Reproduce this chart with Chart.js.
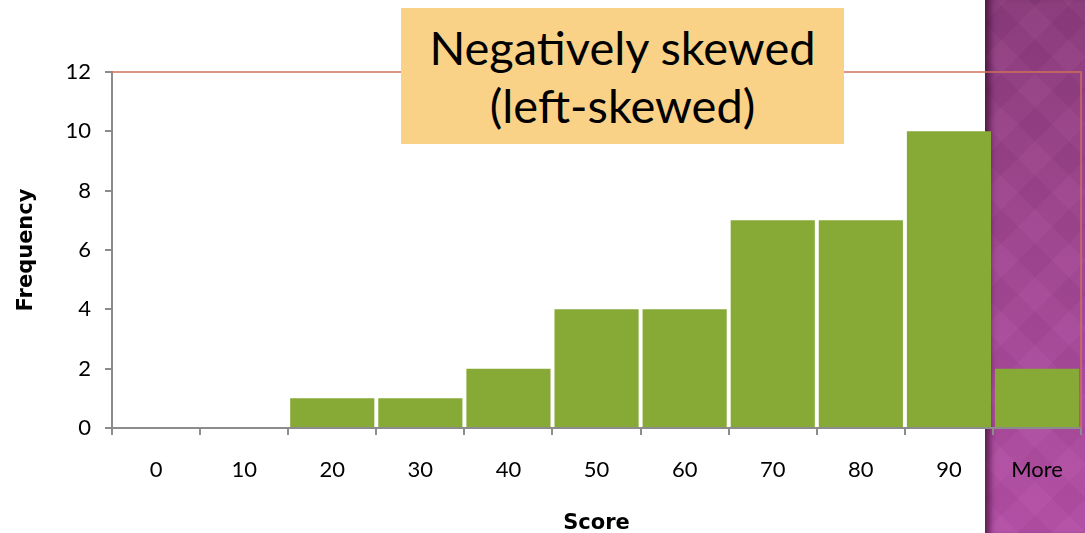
<!DOCTYPE html>
<html>
<head>
<meta charset="utf-8">
<script src="https://cdn.jsdelivr.net/npm/chart.js@4"></script>
<style>
  html, body { margin: 0; padding: 0; background: #fff; }
  #wrap { position: relative; width: 1085px; height: 533px; overflow: hidden; }
  #strip {
    position: absolute; left: 985px; top: 0; width: 100px; height: 533px;
    background:
      repeating-linear-gradient(45deg, rgba(255,255,255,0.018) 0 24px, rgba(0,0,0,0.018) 24px 48px),
      repeating-linear-gradient(-45deg, rgba(255,255,255,0.018) 0 24px, rgba(0,0,0,0.018) 24px 48px),
      linear-gradient(180deg, #8c3a7c 0%, #a04591 45%, #b44ea6 100%);
    box-shadow: inset 9px 0 6px -4px rgba(40, 0, 30, 0.6);
  }
  #chart { position: absolute; left: 0; top: 0; }
  #title {
    position: absolute; left: 401px; top: 8px; width: 443px; height: 136px;
    background: #f9d288; color: #000;
    font-family: Lato, sans-serif; font-size: 47px; line-height: 58px;
    text-align: center; box-sizing: border-box; padding-top: 10px;
  }
</style>
</head>
<body>
<div id="wrap">
  <div id="strip"></div>
  <canvas id="chart" width="1085" height="533"></canvas>
  <div id="title">Negatively skewed<br>(left-skewed)</div>
</div>
<script>
const categories = ['0', '10', '20', '30', '40', '50', '60', '70', '80', '90', 'More']
const frequency = [0, 0, 1, 1, 2, 4, 4, 7, 7, 10, 2]
const yTicks = [0, 2, 4, 6, 8, 10, 12]

const axisGrey = '#8c8c8c'
const tickFont = { family: 'Lato, sans-serif', size: 22 }
const titleFont = { family: '"DejaVu Sans", sans-serif', size: 21, weight: 'bold' }

// red frame on top and right of the plot area
const frame = {
  id: 'frame',
  afterDraw (chart) {
    const { ctx, chartArea: a } = chart
    ctx.save()
    ctx.strokeStyle = '#d0705a'
    ctx.lineWidth = 1.5
    ctx.beginPath()
    ctx.moveTo(a.left, a.top)
    ctx.lineTo(a.right, a.top)
    ctx.lineTo(a.right, a.bottom)
    ctx.stroke()
    ctx.restore()
  }
}

new Chart(document.getElementById('chart'), {
  type: 'bar',
  data: {
    labels: categories,
    datasets: [{
      label: 'Frequency',
      data: frequency,
      backgroundColor: '#86aa35',
      borderWidth: 0,
      barPercentage: 0.955,
      categoryPercentage: 1
    }]
  },
  options: {
    responsive: false,
    animation: false,
    layout: { padding: { left: 0, right: 2, top: 72, bottom: 0 } },
    plugins: { legend: { display: false }, tooltip: { enabled: false } },
    scales: {
      x: {
        afterFit: s => { s.height = 105 },
        grid: { offset: true, drawOnChartArea: false, drawTicks: true, tickLength: 7, color: axisGrey, lineWidth: 2 },
        border: { display: true, color: axisGrey, width: 2 },
        ticks: { color: '#000', font: tickFont, padding: 22 },
        title: { display: true, text: 'Score', color: '#000', font: titleFont, padding: { top: 28, bottom: -3 } }
      },
      y: {
        min: 0,
        max: 12,
        afterFit: s => { s.width = 112 },
        afterBuildTicks: s => { s.ticks = yTicks.map(v => ({ value: v })) },
        grid: { drawOnChartArea: false, drawTicks: true, tickLength: 7, color: axisGrey, lineWidth: 2 },
        border: { display: true, color: axisGrey, width: 2 },
        ticks: { color: '#000', font: tickFont, padding: 14 },
        title: { display: true, text: 'Frequency', color: '#000', font: titleFont, padding: { top: 14, bottom: 30 } }
      }
    }
  },
  plugins: [frame]
})
</script>
</body>
</html>
